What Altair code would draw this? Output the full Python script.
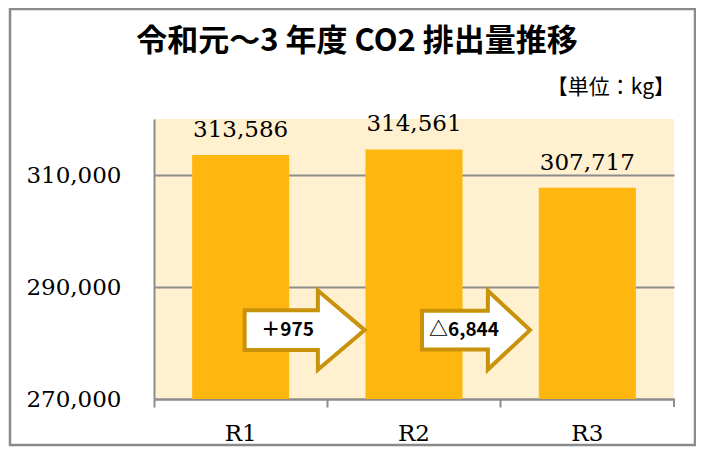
import altair as alt
import pandas as pd

# ---- data ----
categories = ["R1", "R2", "R3"]
values = [313586, 314561, 307717]

arrow_from = ["R1", "R2"]
arrow_labels = ["＋975", "△6,844"]
arrow_level = [282300, 282300]

y_ticks = [270000, 290000, 310000]
y_domain = [270000, 320000]

title_text = "令和元～3 年度  CO2 排出量推移"
unit_text = "【単位：kg】"

# ---- styles ----
BAR = "#FFB70F"
BG = "#FFF0D0"
GRAY = "#8C8C8C"
ARROW_STROKE = "#C8920A"
SERIF = "DejaVu Serif"
CJK = "Noto Sans CJK JP"

df = pd.DataFrame({"cat": categories, "value": values})

x_axis = alt.Axis(labelAngle=0, labelFont=SERIF, labelFontSize=23,
                  labelColor="black", labelPadding=15, labelBaseline="top",
                  bandPosition=0, tickSize=8, tickColor=GRAY, tickWidth=2,
                  domainColor=GRAY, domainWidth=2, grid=False)
x_scale = alt.Scale(domain=categories, paddingInner=0, paddingOuter=0)
y_axis = alt.Axis(values=y_ticks, format=",d", labelFont=SERIF, labelFontSize=23,
                  labelColor="black", labelPadding=33, ticks=False, tickSize=0,
                  domainColor=GRAY, domainWidth=2, gridColor=GRAY, gridWidth=2)
y_scale = alt.Scale(domain=y_domain, nice=False, zero=False)


def X(field):
    return alt.X(f"{field}:N", title=None, scale=x_scale, axis=x_axis, sort=categories)


def Y(field):
    return alt.Y(f"{field}:Q", title=None, scale=y_scale, axis=y_axis)


# outer frame (decoration)
frame = alt.Chart(pd.DataFrame({"k": [0]})).mark_rect(
    fill="white", fillOpacity=0, stroke="#8A8A8A", strokeWidth=2.5
).encode(x=alt.value(-144), x2=alt.value(541), y=alt.value(-110), y2=alt.value(326))

bars = alt.Chart(df).mark_bar(color=BAR, width=alt.RelativeBandSize(0.56), clip=True).encode(
    x=X("cat"), y=Y("value"))

labels = alt.Chart(df).mark_text(font=SERIF, fontSize=23, color="black",
                                  baseline="alphabetic", dy=-18).encode(
    x=X("cat"), y=Y("value"),
    text=alt.Text("value:Q", format=",d"))

# arrows
arrow_shapes = [
    ("M-1,-0.33 L0.22,-0.33 L0.22,-0.66 L1,0 L0.22,0.66 L0.22,0.33 L-1,0.33 Z", 60, 64, 47),
    ("M-1,-0.36 L0.22,-0.36 L0.22,-0.73 L1,0 L0.22,0.73 L0.22,0.36 L-1,0.36 Z", 54, 62, 50),
]
arrow_layers = []
for i, (path, half, off, toff) in enumerate(arrow_shapes):
    adf = pd.DataFrame({"cat": [arrow_from[i]], "value": [arrow_level[i]],
                        "label": [arrow_labels[i]]})
    arrow_layers.append(
        alt.Chart(adf).mark_point(shape=path, size=(2 * half) ** 2, filled=True,
                                  fill="white", opacity=1, stroke=ARROW_STROKE,
                                  strokeWidth=4, xOffset=off, strokeJoin="miter").encode(
            x=X("cat"), y=Y("value"))
    )
    arrow_layers.append(
        alt.Chart(adf).mark_text(font=CJK, fontWeight="bold", fontSize=19, color="black",
                                 xOffset=toff, baseline="middle").encode(
            x=X("cat"), y=Y("value"), text="label:N")
    )

title = alt.Chart(pd.DataFrame({"t": [title_text]})).mark_text(
    font=CJK, fontWeight="bold", fontSize=31, color="black", baseline="middle",
    align="center").encode(x=alt.value(203), y=alt.value(-77), text="t:N")

unit = alt.Chart(pd.DataFrame({"t": [unit_text]})).mark_text(
    font=CJK, fontSize=21, color="black", baseline="middle", align="right").encode(
    x=alt.value(521), y=alt.value(-31), text="t:N")

right_tick = alt.Chart(pd.DataFrame({"k": [0]})).mark_rule(color=GRAY, strokeWidth=2).encode(
    x=alt.value(520), y=alt.value(280), y2=alt.value(288))

chart = alt.layer(frame, bars, labels, *arrow_layers, title, unit, right_tick).properties(
    width=520, height=280,
    padding={"left": 146, "top": 111, "right": 22, "bottom": 48},
    autosize=alt.AutoSizeParams(type="none"),
    background="white",
).configure_view(fill=BG, strokeWidth=0)

chart.save("out.html", embed_options={"renderer": "svg", "actions": False})
